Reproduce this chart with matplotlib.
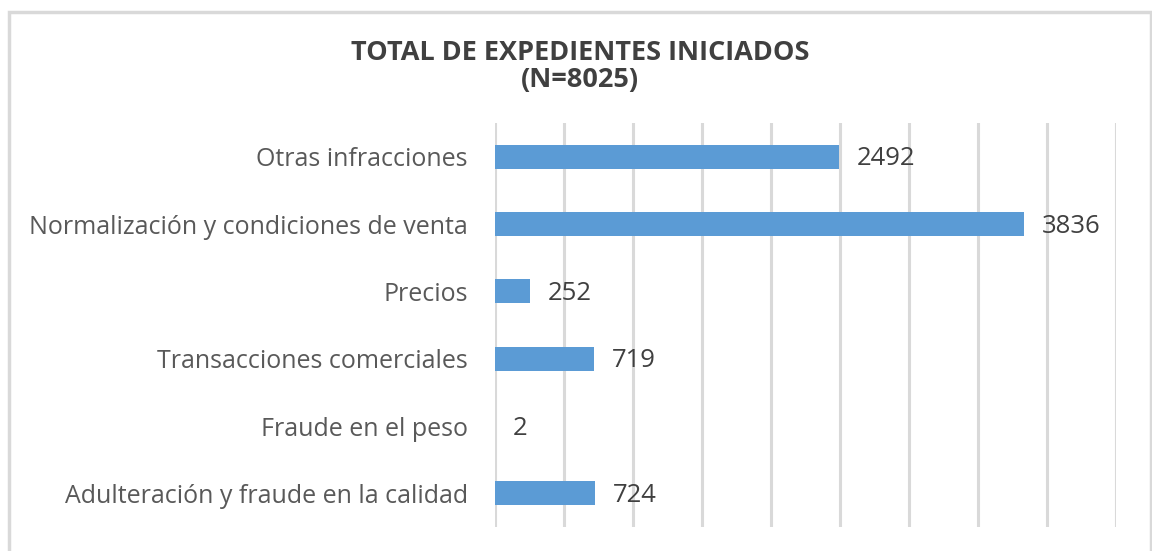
import matplotlib
matplotlib.use("Agg")
import matplotlib.pyplot as plt
from matplotlib.patches import Rectangle

categories = ["Otras infracciones", "Normalización y condiciones de venta", "Precios",
              "Transacciones comerciales", "Fraude en el peso",
              "Adulteración y fraude en la calidad"]
values = [2492, 3836, 252, 719, 2, 724]
title = "TOTAL DE EXPEDIENTES INICIADOS\n(N=8025)"

W, H = 1152, 551
fig = plt.figure(figsize=(W / 100, H / 100), dpi=100)
plt.rcParams['font.family'] = ['Open Sans', 'DejaVu Sans']

# outer border
fig.patches.append(Rectangle((9 / W, -0.05), (1151 - 9) / W, (H - 12) / H + 0.05,
                             transform=fig.transFigure, fill=False,
                             edgecolor="#d9d9d9", linewidth=2.5))

ax = fig.add_axes([495 / W, (H - 527) / H, (1116 - 495) / W, (527 - 123) / H])
y = list(range(len(categories)))
ax.barh(y, values, height=0.36, color="#5B9BD5", zorder=3)
ax.set_ylim(len(categories) - 0.5, -0.5)
ax.set_xlim(0, 4500)
ax.set_xticks(range(0, 4501, 500))
ax.xaxis.grid(True, color="#d9d9d9", linewidth=2.2, zorder=0)
ax.tick_params(axis="x", length=0, labelbottom=False)
ax.tick_params(axis="y", length=0, pad=19.5)
ax.set_yticks(y)
ax.set_yticklabels(categories, fontsize=18, color="#595959")
for s in ax.spines.values():
    s.set_visible(False)

for yi, v in zip(y, values):
    ax.text(v + 130, yi + 0.03, str(v), va="center", ha="left", fontsize=18.5,
            color="#404040", zorder=4)

fig.text(580 / W, 1 - 66 / H, title, ha="center", va="center", fontsize=19.5,
         fontweight="bold", color="#404040", linespacing=1.05)

fig.savefig("out.png", dpi=100)
